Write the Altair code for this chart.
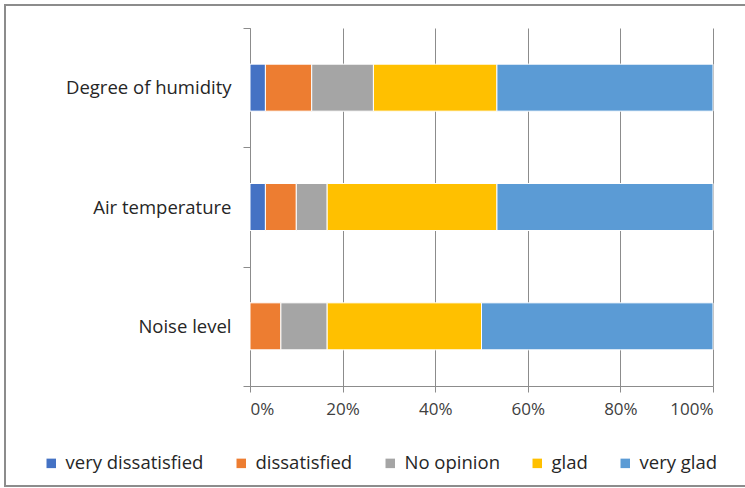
import altair as alt
import pandas as pd

# Survey results: share of respondents per satisfaction level
factors = ["Degree of humidity", "Air temperature", "Noise level"]
levels = ["very dissatisfied", "dissatisfied", "No opinion", "glad", "very glad"]
colors = ["#4472C4", "#ED7D31", "#A5A5A5", "#FFC000", "#5B9BD5"]

humidity = [3.33, 10.0, 13.33, 26.67, 46.67]
air_temp = [3.33, 6.67, 6.67, 36.67, 46.67]
noise = [0.0, 6.67, 10.0, 33.33, 50.0]

rows = []
for factor, vals in zip(factors, [humidity, air_temp, noise]):
    for i, (lvl, v) in enumerate(zip(levels, vals)):
        rows.append({"factor": factor, "level": lvl, "order": i, "share": v / 100})
df = pd.DataFrame(rows)

FONT = "Open Sans"
GRAY = "#8C8C8C"

bars = alt.Chart(df).mark_bar(size=47, stroke="white", strokeWidth=1).encode(
    x=alt.X(
        "share:Q",
        stack="zero",
        scale=alt.Scale(domain=[0, 1], nice=False),
        axis=alt.Axis(
            format="%",
            values=[0, 0.2, 0.4, 0.6, 0.8, 1.0],
            title=None,
            grid=True,
            gridColor=GRAY,
            gridWidth=1,
            domainColor=GRAY,
            tickColor=GRAY,
            tickSize=6,
            labelFont=FONT,
            labelFontSize=17,
            labelColor="#404040",
            labelPadding=9,
        ),
    ),
    y=alt.Y(
        "factor:N",
        sort=factors,
        scale=alt.Scale(paddingInner=0, paddingOuter=0),
        axis=alt.Axis(
            title=None,
            tickBand="extent",
            domainColor=GRAY,
            tickColor=GRAY,
            tickSize=7,
            labelFont=FONT,
            labelFontSize=18.5,
            labelColor="#262626",
            labelPadding=12,
        ),
    ),
    color=alt.Color(
        "level:N",
        sort=levels,
        scale=alt.Scale(domain=levels, range=colors),
        legend=alt.Legend(
            title=None,
            orient="none",
            legendX=-208,
            legendY=426,
            direction="horizontal",
            symbolType="square",
            symbolSize=90,
            symbolStrokeWidth=0,
            labelFont=FONT,
            labelFontSize=18.5,
            labelColor="#262626",
            columnPadding=28,
            labelOffset=5,
        ),
    ),
    order=alt.Order("order:Q"),
)

# Chart-area frame
frame = alt.Chart(pd.DataFrame({"k": [0]})).mark_rect(
    fill=None, stroke="#8C8C8C", strokeWidth=2
).encode(
    x=alt.value(-245), x2=alt.value(500), y=alt.value(-23), y2=alt.value(458)
)

chart = (
    alt.layer(frame, bars)
    .properties(
        width=463,
        height=358,
        padding={"left": 250, "top": 28, "right": 32, "bottom": 102},
        autosize=alt.AutoSizeParams(type="none"),
        background="white",
    )
    .configure_view(stroke=None)
)

chart.save("out.html", embed_options={"renderer": "svg", "actions": False})
